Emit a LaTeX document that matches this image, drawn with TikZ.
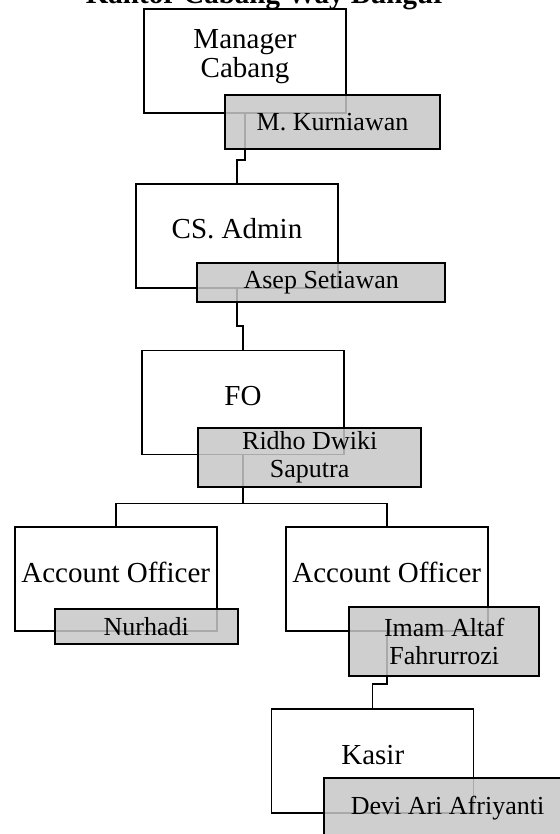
\documentclass[tikz,border=0pt]{standalone}
\usepackage{fontspec}
\setmainfont{Liberation Serif}
\usepackage{tikz}

\definecolor{namagray}{gray}{0.78}
\tikzset{
	jabatan/.style={draw, line width=1.8pt, minimum width=202pt, minimum height=104pt, inner sep=0pt, outer sep=0pt},
	jabatanteks/.style={inner sep=0pt, align=center, font=\fontsize{29}{29}\selectfont},
	nama/.style={draw, line width=1.8pt, fill=namagray, fill opacity=0.85, text opacity=1, inner sep=0pt, outer sep=0pt, align=center, font=\fontsize{26}{28}\selectfont},
	garis/.style={line width=1.8pt}
}

\begin{document}
\begin{tikzpicture}[x=1pt, y=-1pt]
	\useasboundingbox (0,0) rectangle (559,834);
	\node [anchor=base, inner sep=0pt, font=\bfseries\fontsize{29}{29}\selectfont] (judul) at (266,4) {Kantor Cabang Way Bungur};
	\node [jabatan] (manager) at (245,61) {};
	\node [jabatan] (csadmin) at (237,235.7) {};
	\node [jabatan] (fo) at (242.8,402.5) {};
	\node [jabatan] (ao1) at (116.2,579.2) {};
	\node [jabatan] (ao2) at (387.2,579.2) {};
	\node [jabatan] (kasir) at (372.5,761.3) {};
	\node [jabatanteks, anchor=north] (manager-t) at (245,29.8) {Manager\\Cabang};
	\node [jabatanteks, anchor=base] (csadmin-t) at (237,238.3) {CS. Admin};
	\node [jabatanteks, anchor=base] (fo-t) at (243,405) {FO};
	\node [jabatanteks, anchor=base] (ao1-t) at (115.7,582.7) {Account Officer};
	\node [jabatanteks, anchor=base] (ao2-t) at (386.7,582.7) {Account Officer};
	\node [jabatanteks, anchor=base] (kasir-t) at (372.8,764) {Kasir};
	\draw [garis] (manager.south) -- ++(0,47) -| (csadmin.north);
	\draw [garis] (csadmin.south) -- ++(0,38) -| (fo.north);
	\draw [garis] (fo.south) -- ++(0,49) coordinate (cabang);
	\draw [garis] (ao1.north) |- (cabang) -| (ao2.north);
	\draw [garis] (ao2.south) -- ++(0,53) -| (kasir.north);
	\node [nama, minimum width=215pt, minimum height=54pt] (kurniawan) at (332.5,122) {M. Kurniawan};
	\node [nama, minimum width=247.7pt, minimum height=38.4pt] (asep) at (321.2,282.5) {Asep Setiawan};
	\node [nama, minimum width=222.7pt, minimum height=58.4pt] (ridho) at (309.7,457.5) {Ridho Dwiki\\Saputra};
	\node [nama, minimum width=182.7pt, minimum height=35.3pt] (nurhadi) at (146.3,626.7) {Nurhadi};
	\node [nama, minimum width=190pt, minimum height=68.4pt] (imam) at (444.3,641.5) {Imam Altaf\\Fahrurrozi};
	\node [nama, minimum width=247pt, minimum height=60pt] (devi) at (447.5,808) {Devi Ari Afriyanti};
\end{tikzpicture}
\end{document}
